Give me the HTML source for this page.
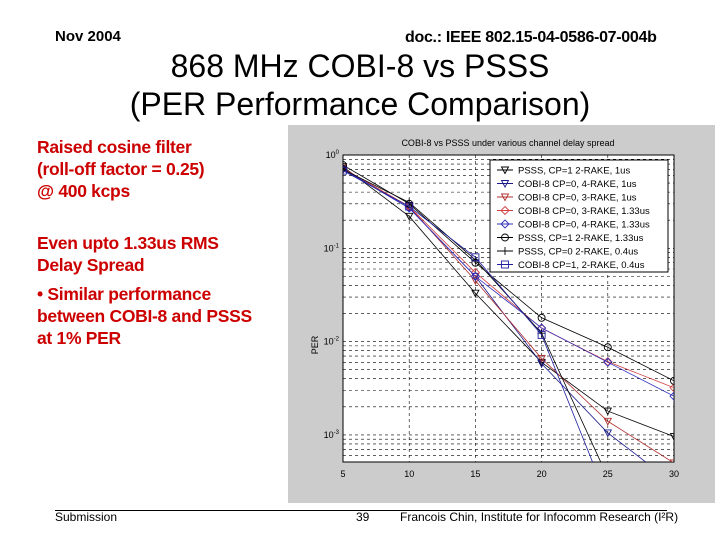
<!DOCTYPE html>
<html><head><meta charset="utf-8"><style>
body{margin:0;width:720px;height:540px;background:#fff;position:relative;overflow:hidden;font-family:"Liberation Sans",Arial,sans-serif}
.a{position:absolute;white-space:nowrap}
</style></head><body>
<div class="a" style="left:55px;top:28px;font-size:15px;font-weight:bold">Nov 2004</div>
<div class="a" style="left:405px;top:29px;font-size:16px;font-weight:bold;letter-spacing:-0.3px">doc.: IEEE 802.15-04-0586-07-004b</div>
<div class="a" style="left:0;width:720px;text-align:center;top:47px;font-size:32px;line-height:38px;white-space:normal">868 MHz COBI-8 vs PSSS<br>(PER Performance Comparison)</div>
<div class="a" style="left:37px;top:136px;font-size:17.5px;font-weight:bold;color:#cc0000;line-height:22px;letter-spacing:-0.3px">Raised cosine filter<br>(roll-off factor = 0.25)<br>@ 400 kcps</div>
<div class="a" style="left:37px;top:232px;font-size:17.5px;font-weight:bold;color:#cc0000;line-height:22px;letter-spacing:-0.3px">Even upto 1.33us RMS<br>Delay Spread</div>
<div class="a" style="left:37px;top:283px;font-size:17.5px;font-weight:bold;color:#cc0000;line-height:22px;letter-spacing:-0.3px">• Similar performance<br>between COBI-8 and PSSS<br>at 1% PER</div>
<div class="a" style="left:55px;top:510px;width:612px;height:1px;background:#000"></div>
<div class="a" style="left:55px;top:510px;font-size:12px">Submission</div>
<div class="a" style="left:356px;top:510px;font-size:12px">39</div>
<div class="a" style="left:400px;top:510px;font-size:12px">Francois Chin, Institute for Infocomm Research (I²R)</div>
<svg class="a" style="left:0;top:0" width="720" height="540" id="chart">
<rect x="288" y="125" width="427" height="378" fill="#cccccc"/>
<defs><clipPath id="clip"><rect x="343" y="155" width="331" height="307"/></clipPath></defs>
</svg>
<script>
const xs=[5,10,15,20,25,30];
const s1=[0.75,0.22,0.033,0.006,0.0018,0.00096];
const s2=[0.70,0.27,0.05,0.0058,0.00105,0.0003];
const s3=[0.72,0.28,0.045,0.0066,0.0014,0.0005];
const s4=[0.72,0.28,0.055,0.0139,0.0061,0.0032];
const s5=[0.71,0.27,0.05,0.014,0.006,0.0026];
const s6=[0.78,0.30,0.07,0.018,0.0087,0.0038];
const s7=[0.70,0.31,0.075,0.0123,0.00035,0.00005];
const s8=[0.68,0.28,0.08,0.0118,0.0002,0.00003];
const labels=["PSSS, CP=1 2-RAKE, 1us","COBI-8 CP=0, 4-RAKE, 1us","COBI-8 CP=0, 3-RAKE, 1us","COBI-8 CP=0, 3-RAKE, 1.33us","COBI-8 CP=0, 4-RAKE, 1.33us","PSSS, CP=1 2-RAKE, 1.33us","PSSS, CP=0 2-RAKE, 0.4us","COBI-8 CP=1, 2-RAKE, 0.4us"];
const xTicks=[5,10,15,20,25,30];
const yTickExp=[0,-1,-2,-3];
const series=[s1,s2,s3,s4,s5,s6,s7,s8];
const colors=["#000","#1a1a8c","#b03030","#d04040","#3030c0","#000","#000","#2020a0"];
const marks=["tri","tri","tri","dia","dia","circ","plus","sq"];
const svg=document.getElementById('chart');const NS="http://www.w3.org/2000/svg";
const L=343,R=674,T=155,B=462,dec=93.3;
const X=v=>L+(v-5)/25*(R-L);
const Y=v=>T-Math.log10(v)*dec;
function mk(tag,at,par){const e=document.createElementNS(NS,tag);for(const k in at)e.setAttribute(k,at[k]);(par||svg).appendChild(e);return e;}
const bg=mk('rect',{x:L,y:T,width:R-L,height:B-T,fill:'#fff',stroke:'#000'});


for(const t of xTicks){const g=mk('line',{x1:X(t),x2:X(t),y1:T,y2:B,stroke:'#000','stroke-dasharray':'3,3','stroke-width':0.6});


const tx=mk('text',{x:X(t),y:B+15,'font-size':9,'text-anchor':'middle'});tx.textContent=t;

}
for(let d=0;d>=-4;d--){for(let m=1;m<10;m++){const v=m*Math.pow(10,d);const y=Y(v);if(y<T-0.5||y>B)continue;
const g=mk('line',{x1:L,x2:R,y1:y,y2:y,stroke:'#000','stroke-dasharray':'3,3','stroke-width':0.6});

}}
for(const e of yTickExp){const tx=mk('text',{x:L-4,y:Y(Math.pow(10,e))+3,'font-size':9,'text-anchor':'end'});tx.innerHTML='10<tspan dy="-4" font-size="6">'+e+'</tspan>';

}
const yl=mk('text',{x:318,y:345,'font-size':9,transform:'rotate(-90 318 345)','text-anchor':'middle'});yl.textContent='PER';


const ti=mk('text',{x:508,y:146,'font-size':9,'text-anchor':'middle'});ti.textContent='COBI-8 vs PSSS under various channel delay spread';


function marker(type,x,y,c,par){const a={fill:'none',stroke:c,'stroke-width':0.9};let e;
if(type==='tri')e=mk('path',Object.assign({d:`M${x-3.5},${y-3}L${x+3.5},${y-3}L${x},${y+3.5}Z`},a),par);
else if(type==='dia')e=mk('path',Object.assign({d:`M${x},${y-4}L${x+4},${y}L${x},${y+4}L${x-4},${y}Z`},a),par);
else if(type==='circ')e=mk('circle',Object.assign({cx:x,cy:y,r:3.5},a),par);
else if(type==='plus')e=mk('path',Object.assign({d:`M${x-4},${y}H${x+4}M${x},${y-4}V${y+4}`},a),par);
else e=mk('rect',Object.assign({x:x-3.5,y:y-3.5,width:7,height:7},a),par);
return e;}
const cg=mk('g',{'clip-path':'url(#clip)'});
series.forEach((s,i)=>{const p=mk('polyline',{points:s.map((v,j)=>X(xs[j])+','+Y(v)).join(' '),fill:'none',stroke:colors[i],'stroke-width':0.8},cg);


s.forEach((v,j)=>{const m=marker(marks[i],X(xs[j]),Y(v),colors[i],cg);

});});
const lb=mk('rect',{x:490,y:160,width:178,height:112,fill:'#fff',stroke:'#000'});


labels.forEach((t,i)=>{const y=170+i*13.5;
const ln=mk('line',{x1:497,x2:513,y1:y,y2:y,stroke:colors[i]});


marker(marks[i],505,y,colors[i]);
const tx=mk('text',{x:518,y:y+3.5,'font-size':9.5});tx.textContent=t;

});
</script>
</body></html>
